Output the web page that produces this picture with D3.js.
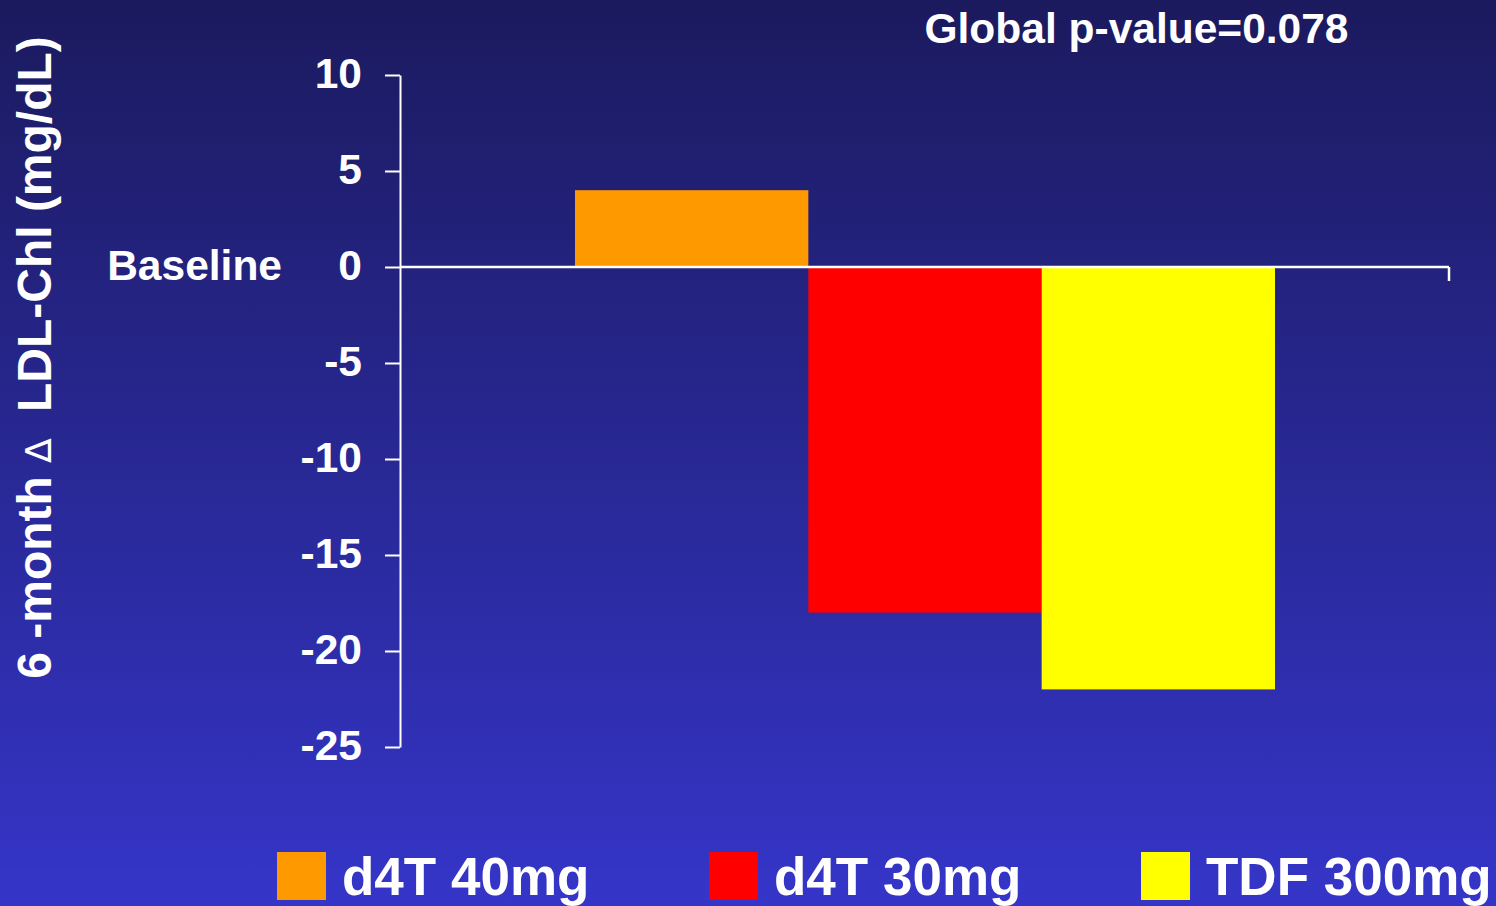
<!DOCTYPE html>
<html><head><meta charset="utf-8">
<script src="https://cdn.jsdelivr.net/npm/d3@7"></script>
<style>html,body{margin:0;padding:0;overflow:hidden;}svg{display:block;}</style>
</head><body>
<script>
const groups = ["d4T 40mg", "d4T 30mg", "TDF 300mg"];
const values = [4, -18, -22];
const colors = ["#FF9900", "#FF0000", "#FFFF00"];
const yTicks = [10, 5, 0, -5, -10, -15, -20, -25];
const yTickLabels = ["10", "5", "0", "-5", "-10", "-15", "-20", "-25"];
const title = "Global p-value=0.078";
const yTitle = ["6 -month ", "\u2206", "  LDL-Chl (mg/dL)"];
const baselineLabel = "Baseline";

(function () {
const W = 1496, H = 906;
const svg = d3.select("body").append("svg").attr("width", W).attr("height", H);
const defs = svg.append("defs");
const grad = defs.append("linearGradient").attr("id", "bg").attr("x1", 0).attr("y1", 0).attr("x2", 0).attr("y2", 1);
grad.append("stop").attr("offset", "0%").attr("stop-color", "#1b1a5e");
grad.append("stop").attr("offset", "100%").attr("stop-color", "#3535c9");
svg.append("rect").attr("width", W).attr("height", H).attr("fill", "url(#bg)");

const font = "'Liberation Sans', Arial, sans-serif";
const pl = 400, pr = 1450, pt = 75, pb = 747;

const y = d3.scaleLinear().domain([-25, 10]).range([pb, pt]);
const outer = d3.scaleBand().domain(["all"]).range([pl, pr]).paddingInner(0).paddingOuter(0.25);
const x = d3.scaleBand().domain(groups).range([outer("all"), outer("all") + outer.bandwidth()]).padding(0);

// bars
svg.append("g").selectAll("rect").data(groups).join("rect")
  .attr("x", d => x(d))
  .attr("width", x.bandwidth())
  .attr("y", (d, i) => y(Math.max(0, values[i])))
  .attr("height", (d, i) => Math.abs(y(values[i]) - y(0)))
  .attr("fill", (d, i) => colors[i]);

// y axis
const yAxis = d3.axisLeft(y).tickValues(yTicks).tickFormat((d, i) => yTickLabels[i]).tickSize(15).tickSizeOuter(0).tickPadding(23);
const ga = svg.append("g").attr("transform", `translate(${pl},0)`).call(yAxis);
ga.select(".domain").attr("stroke", "#fff").attr("stroke-width", 2);
ga.selectAll(".tick line").attr("stroke", "#fff").attr("stroke-width", 2);
ga.selectAll(".tick text").attr("fill", "#fff").attr("font-family", font).attr("font-weight", "bold").attr("font-size", 42.5).attr("dy", "0.3em");

// zero line (category axis)
svg.append("line").attr("x1", pl).attr("x2", pr - 1).attr("y1", y(0)).attr("y2", y(0)).attr("stroke", "#fff").attr("stroke-width", 2.5);
svg.append("line").attr("x1", pr - 1).attr("x2", pr - 1).attr("y1", y(0)).attr("y2", y(0) + 14).attr("stroke", "#fff").attr("stroke-width", 2.5);

// baseline label
svg.append("text").attr("x", 282).attr("y", y(0)).attr("dy", "0.3em").attr("text-anchor", "end")
  .attr("fill", "#fff").attr("font-family", font).attr("font-weight", "bold").attr("font-size", 42.5).text(baselineLabel);

// title
svg.append("text").attr("x", 1136.5).attr("y", 43).attr("text-anchor", "middle")
  .attr("fill", "#fff").attr("font-family", font).attr("font-weight", "bold").attr("font-size", 42.5).text(title);

// y title
const yt = svg.append("text").attr("transform", `translate(51,${357.5}) rotate(-90)`).attr("text-anchor", "middle")
  .attr("fill", "#fff").attr("font-family", font).attr("font-weight", "bold").attr("font-size", 48).style("white-space", "pre");
yt.append("tspan").text(yTitle[0]);
yt.append("tspan").attr("font-weight", "normal").attr("font-family", "'DejaVu Sans', sans-serif").attr("font-size", 36).text(yTitle[1]);
yt.append("tspan").text(yTitle[2]);

// legend
const legX = [277, 709, 1141];
const lg = svg.append("g").selectAll("g").data(groups).join("g").attr("transform", (d, i) => `translate(${legX[i]},852)`);
lg.append("rect").attr("width", 49).attr("height", 48).attr("fill", (d, i) => colors[i]);
lg.append("text").attr("x", 65).attr("y", 43).attr("fill", "#fff").attr("font-family", font).attr("font-weight", "bold").attr("font-size", 53).text(d => d);
})();
</script>
</body></html>
